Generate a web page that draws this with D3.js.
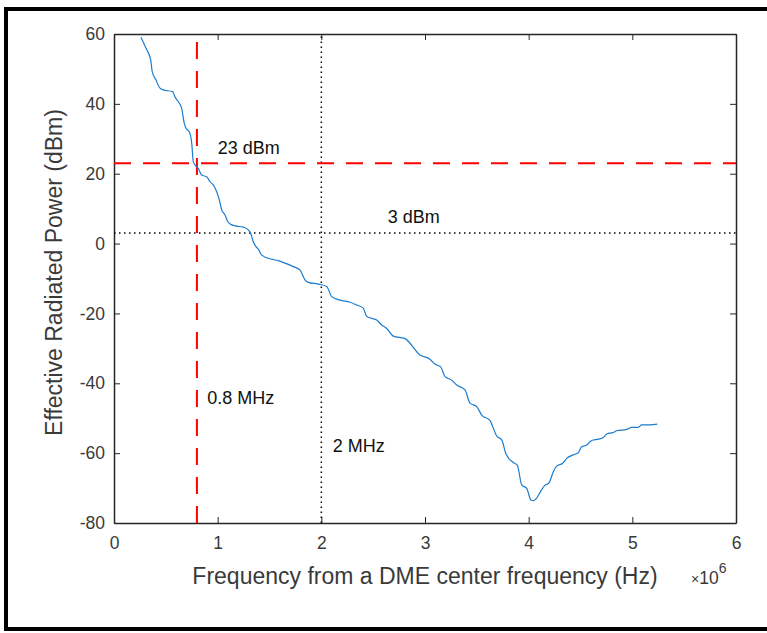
<!DOCTYPE html>
<html>
<head>
<meta charset="utf-8">
<style>
  html, body { margin: 0; padding: 0; background: #fff; }
  svg { display: block; }
  .axis text { font: 17.5px "Liberation Sans", Arial, sans-serif; fill: #3a3a3a; }
  .axis path, .axis line { stroke: #262626; }
  .lbl { font: 23px "Liberation Sans", Arial, sans-serif; fill: #3a3a3a; }
  .note { font: 18px "Liberation Sans", Arial, sans-serif; fill: #111; }
</style>
</head>
<body>
<div id="chart"></div>
<script src="https://cdnjs.cloudflare.com/ajax/libs/d3/7.8.5/d3.min.js"></script>
<script>

// frequency offset (x 10^6 Hz) and effective radiated power (dBm)
var freq = [0.260, 0.309, 0.354, 0.369, 0.405, 0.444, 0.476, 0.566, 0.588, 0.630,
            0.653, 0.678, 0.695, 0.726, 0.750, 0.765, 0.813, 0.846, 0.894, 0.926,
            0.965, 0.996, 1.016, 1.039, 1.071, 1.097, 1.126, 1.184, 1.247, 1.295,
            1.319, 1.344, 1.370, 1.392, 1.425, 1.521, 1.585, 1.649, 1.730, 1.794,
            1.842, 1.874, 1.971, 2.052, 2.100, 2.180, 2.277, 2.341, 2.405, 2.438,
            2.534, 2.582, 2.630, 2.694, 2.807, 2.952, 3.048, 3.096, 3.151, 3.193,
            3.257, 3.306, 3.386, 3.434, 3.499, 3.547, 3.627, 3.692, 3.740, 3.781,
            3.852, 3.890, 3.933, 3.981, 4.022, 4.046, 4.077, 4.109, 4.153, 4.196,
            4.238, 4.270, 4.328, 4.367, 4.430, 4.479, 4.511, 4.560, 4.608, 4.672,
            4.720, 4.753, 4.816, 4.849, 4.945, 4.994, 5.057, 5.090, 5.170, 5.241];

var erp = [59.1, 55.9, 52.6, 49.2, 46.8, 44.5, 44.0, 43.5, 42.0, 40.2,
           38.7, 34.4, 33.0, 32.0, 28.7, 23.4, 21.5, 19.6, 19.1, 17.7,
           16.5, 14.4, 12.5, 9.6, 8.2, 6.3, 5.5, 5.0, 4.7, 3.9,
           2.9, 0.5, -0.9, -1.6, -3.3, -4.5, -4.9, -5.6, -6.6, -7.6,
           -10.4, -11.1, -11.6, -12.3, -15.2, -16.2, -16.8, -17.6, -18.5, -20.9,
           -21.9, -23.3, -24.3, -26.5, -27.2, -31.9, -33.1, -34.5, -35.3, -38.1,
           -39.1, -40.5, -41.9, -45.7, -46.7, -49.1, -50.7, -55.1, -56.2, -60.2,
           -62.7, -63.4, -69.1, -70.1, -73.4, -73.6, -72.9, -71.3, -69.3, -68.5,
           -65.3, -63.7, -62.9, -61.5, -60.5, -59.9, -58.2, -57.7, -56.4, -56.0,
           -55.5, -54.5, -54.1, -53.6, -53.2, -52.6, -52.6, -51.9, -51.9, -51.7];

var xTicks = [0, 1, 2, 3, 4, 5, 6];
var yTicks = [-80, -60, -40, -20, 0, 20, 40, 60];

// reference lines
var powerLimit = 23, powerLow = 3;
var freqLimit = 0.8, freqWide = 2;

var W = 767, H = 633;
var margin = {top: 34, right: 31, bottom: 110, left: 114},
    width = W - margin.left - margin.right,
    height = H - margin.top - margin.bottom;

var fmt = function(d) { return String(d); };

var svg = d3.select("#chart").append("svg")
    .attr("width", W)
    .attr("height", H);

// outer frame (right edge cut off)
svg.append("path")
    .attr("d", "M" + (W + 5) + ",9H6V629H" + (W + 5))
    .attr("fill", "none")
    .attr("stroke", "#000")
    .attr("stroke-width", 4);

var g = svg.append("g")
    .attr("transform", "translate(" + margin.left + "," + margin.top + ")");

var x = d3.scaleLinear().domain([0, 6]).range([0, width]);
var y = d3.scaleLinear().domain([-80, 60]).range([height, 0]);

g.append("g")
    .attr("class", "axis")
    .attr("transform", "translate(0," + height + ")")
    .call(d3.axisBottom(x).tickValues(xTicks).tickFormat(fmt).tickSizeInner(-6).tickSizeOuter(0).tickPadding(14));

g.append("g")
    .attr("class", "axis")
    .call(d3.axisLeft(y).tickValues(yTicks).tickFormat(fmt).tickSizeInner(-6).tickSizeOuter(0).tickPadding(9));

g.append("g")
    .attr("class", "axis")
    .call(d3.axisTop(x).tickValues(xTicks).tickSizeInner(-6).tickSizeOuter(0).tickFormat(""));

g.append("g")
    .attr("class", "axis")
    .attr("transform", "translate(" + width + ",0)")
    .call(d3.axisRight(y).tickValues(yTicks).tickSizeInner(-6).tickSizeOuter(0).tickFormat(""));

g.selectAll(".axis path").attr("stroke-width", 1.5);

// reference lines
g.append("line")
    .attr("x1", x(0)).attr("x2", x(6))
    .attr("y1", y(powerLow)).attr("y2", y(powerLow))
    .attr("stroke", "#000").attr("stroke-width", 1.5)
    .attr("stroke-dasharray", "1.5,3.5");

g.append("line")
    .attr("x1", x(freqWide)).attr("x2", x(freqWide))
    .attr("y1", y(-80)).attr("y2", y(60))
    .attr("stroke", "#000").attr("stroke-width", 1.5)
    .attr("stroke-dasharray", "1.5,3.5");

g.append("line")
    .attr("x1", x(0)).attr("x2", x(6))
    .attr("y1", y(powerLimit)).attr("y2", y(powerLimit))
    .attr("stroke", "#ff0000").attr("stroke-width", 2)
    .attr("stroke-dasharray", "17,12");

g.append("line")
    .attr("x1", x(freqLimit)).attr("x2", x(freqLimit))
    .attr("y1", y(-80)).attr("y2", y(60))
    .attr("stroke", "#ff0000").attr("stroke-width", 2)
    .attr("stroke-dasharray", "17,12");

var line = d3.line()
    .x(function(d, i) { return x(freq[i]); })
    .y(function(d) { return y(d); })
    .curve(d3.curveMonotoneX);

g.append("path")
    .datum(erp)
    .attr("fill", "none")
    .attr("stroke", "#1a7ccf")
    .attr("stroke-width", 1.2)
    .attr("d", line);

// annotations
var notes = [
  {t: "23 dBm", fx: 1.0, p: 27.4},
  {t: "3 dBm", fx: 2.64, p: 7.6},
  {t: "0.8 MHz", fx: 0.9, p: -44.2},
  {t: "2 MHz", fx: 2.11, p: -58.0}
];
g.selectAll(".note")
    .data(notes)
  .enter().append("text")
    .attr("class", "note")
    .attr("x", function(d) { return x(d.fx); })
    .attr("y", function(d) { return y(d.p); })
    .attr("dy", "0.35em")
    .text(function(d) { return d.t; });

// axis labels
g.append("text")
    .attr("class", "lbl")
    .attr("x", width / 2)
    .attr("y", height + 61)
    .attr("text-anchor", "middle")
    .text("Frequency from a DME center frequency (Hz)");

g.append("text")
    .attr("class", "lbl")
    .attr("transform", "translate(-52," + (height / 2 - 6) + ") rotate(-90)")
    .attr("text-anchor", "middle")
    .text("Effective Radiated Power (dBm)");

var mult = g.append("text")
    .attr("x", width - 45)
    .attr("y", height + 61)
    .style("font", "17.5px 'Liberation Sans', Arial, sans-serif")
    .style("fill", "#3a3a3a");
mult.append("tspan").style("font-size", "14px").text("\u00d7");
mult.append("tspan").text("10");
mult.append("tspan").attr("dy", -11).style("font-size", "14px").text("6");

</script>
</body>
</html>
